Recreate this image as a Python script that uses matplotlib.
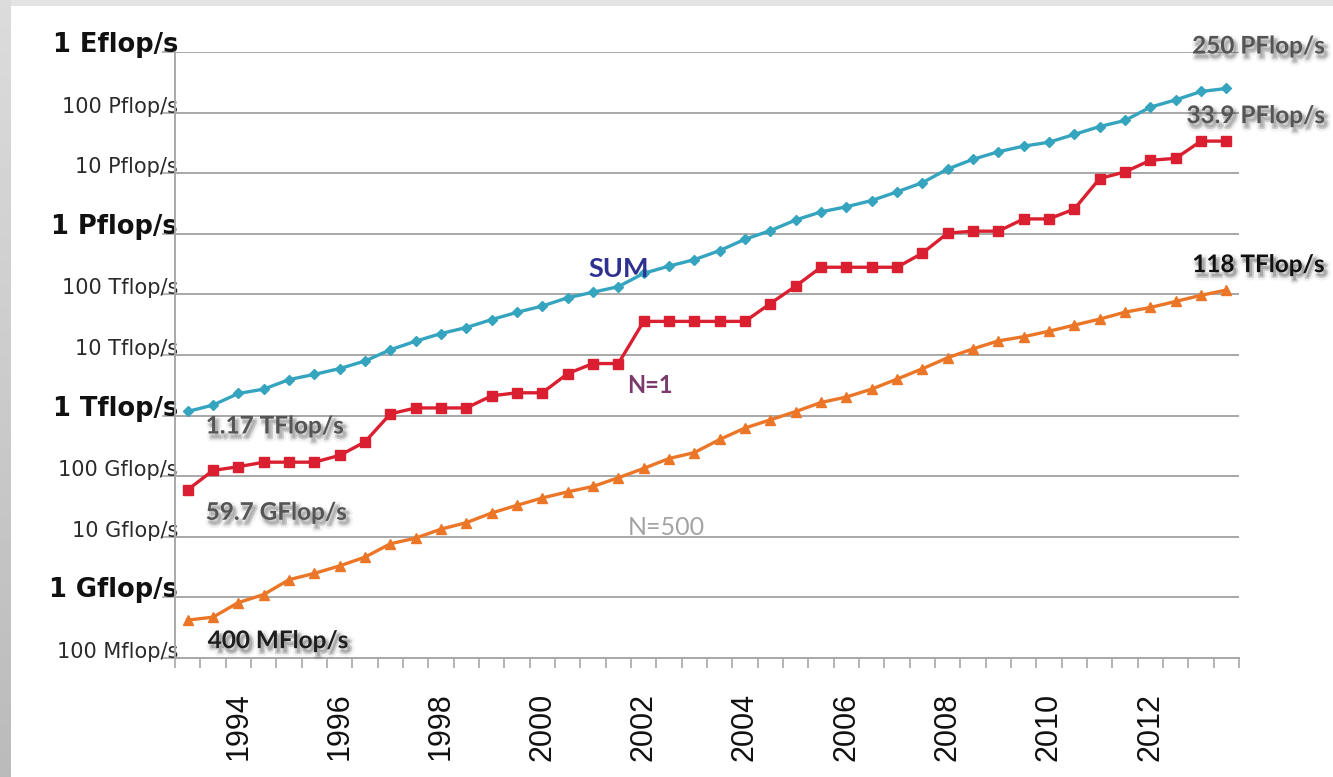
import numpy as np
import matplotlib
matplotlib.use("Agg")
import matplotlib.pyplot as plt
import matplotlib.patheffects as pe
from matplotlib.patches import Rectangle
from matplotlib.ticker import FixedLocator, NullFormatter

# ---------------- data (GFlop/s), TOP500 lists June 1993 .. Nov 2013 ----------------
lists = [f"{y}-{m}" for y in range(1993, 2014) for m in ("06", "11")]

sum_gf = [1170, 1493, 2317, 2732, 3926, 4786, 5964, 7967, 12200, 16900,
          22600, 28400, 38400, 50600, 64300, 88100, 108600, 134400, 222200, 293200,
          374400, 528000, 813000, 1127000, 1690000, 2300000, 2790000, 3540000, 4920000, 6970000,
          11710000, 16950000, 22600000, 27950000, 32430000, 43670000, 58880000, 74160000, 123000000, 162000000,
          223000000, 250000000]

n1_gf = [59.7, 124.5, 143.4, 170.4, 170.4, 170.4, 220.4, 368.2, 1068, 1338,
         1338, 1338, 2121, 2379, 2379, 4938, 7226, 7226, 35860, 35860,
         35860, 35860, 35860, 70720, 136800, 280600, 280600, 280600, 280600, 478200,
         1026000, 1105000, 1105000, 1759000, 1759000, 2566000, 8162000, 10510000, 16325000, 17590000,
         33860000, 33860000]

n500_gf = [0.422, 0.472, 0.822, 1.114, 1.96, 2.49, 3.31, 4.62, 7.67, 9.51,
           13.39, 17.12, 24.73, 33.1, 43.8, 55.1, 67.78, 94.3, 134.3, 195.8,
           245.1, 403.4, 624, 850.6, 1166, 1646, 2026, 2737, 4005, 5929,
           9000, 12640, 17100, 20050, 24670, 31120, 39090, 50940, 60820, 76500,
           96620, 117800]

year_labels = [str(y) for y in range(1994, 2013, 2)]

y_values = [1e18, 1e17, 1e16, 1e15, 1e14, 1e13, 1e12, 1e11, 1e10, 1e9, 1e8]
y_labels = ["1 Eflop/s", "100 Pflop/s", "10 Pflop/s", "1 Pflop/s", "100 Tflop/s",
            "10 Tflop/s", "1 Tflop/s", "100 Gflop/s", "10 Gflop/s", "1 Gflop/s", "100 Mflop/s"]
y_major = ["1 Eflop/s", "1 Pflop/s", "1 Tflop/s", "1 Gflop/s"]

# ---------------- figure ----------------
W, H = 1333, 777
fig = plt.figure(figsize=(W / 100, H / 100), dpi=100)
fig.patch.set_facecolor("#e3e3e3")

# white panel
fig.add_artist(Rectangle((11 / W, 0), 1, 1 - 6 / H, transform=fig.transFigure,
                         facecolor="white", edgecolor="none", zorder=-5))
# left gradient strip
bg = fig.add_axes([0, 0, 11 / W, 1], zorder=-4)
grad = np.linspace(0.86, 0.73, 256).reshape(-1, 1)
bg.imshow(grad, aspect="auto", cmap="gray", vmin=0, vmax=1, extent=[0, 1, 0, 1])
bg.axis("off")

ax = fig.add_axes([175 / W, 1 - 658 / H, (1239 - 175) / W, (658 - 52) / H])
ax.set_facecolor("none")

x = np.arange(len(lists))
to_flops = 1e9
grid_c = "#a8a8a8"

ax.plot(x, np.array(sum_gf) * to_flops, color="#35a4bf", lw=2.4, marker="D",
        ms=5, zorder=5, solid_joinstyle="round")
ax.plot(x, np.array(n1_gf) * to_flops, color="#d91f30", lw=2.4, marker="s",
        ms=6.5, zorder=6, solid_joinstyle="round")
ax.plot(x, np.array(n500_gf) * to_flops, color="#ec7627", lw=2.4, marker="^",
        ms=6.5, zorder=5, solid_joinstyle="round")

ax.set_yscale("log")
ax.set_ylim(1e8, 1e18)
ax.set_xlim(-0.5, len(lists) - 0.5)

# y axis
ax.yaxis.set_major_locator(FixedLocator(y_values))
ax.yaxis.set_minor_locator(FixedLocator([]))
ax.set_yticklabels(y_labels)
ax.grid(axis="y", which="major", color=grid_c, lw=1.4, zorder=0)
ax.tick_params(axis="y", which="major", length=9.4, width=1.2, color=grid_c,
               pad=-11.5, direction="out")
for t in ax.get_yticklabels():
    t.set_verticalalignment("baseline")
    if t.get_text() in y_major:
        t.set_fontsize(18.5)
        t.set_fontweight("bold")
        t.set_color("#111111")
    else:
        t.set_fontsize(15)
        t.set_color("#2a2a2a")
    t.set_family("DejaVu Sans")

# x axis
year_idx = [lists.index(f"{y}-06") for y in year_labels]
ax.set_xticks(year_idx)
ax.set_xticklabels(year_labels, rotation=90, fontsize=22, family="Liberation Sans",
                   color="#111111")
ax.set_xticks(np.arange(-0.5, len(lists)), minor=True)
ax.xaxis.set_minor_formatter(NullFormatter())
ax.tick_params(axis="x", which="major", length=0, pad=25)
ax.tick_params(axis="x", which="minor", length=7.5, width=1.2, color=grid_c, direction="out")

for s in ("top", "right"):
    ax.spines[s].set_visible(False)
for s in ("left", "bottom"):
    ax.spines[s].set_color(grid_c)
    ax.spines[s].set_linewidth(1.4)

# ---------------- annotations ----------------
shadow = [pe.Stroke(offset=(2, -3), linewidth=6, foreground="black", alpha=0.05),
          pe.Stroke(offset=(2, -3), linewidth=2.5, foreground="black", alpha=0.15),
          pe.Normal()]
afont = "Lato"

def note(txt, i, vals, dx, dy, color, ha="left", size=17.5):
    ax.annotate(txt, xy=(i, vals[i] * to_flops), xytext=(dx, dy),
                textcoords="offset pixels", ha=ha, va="baseline", fontsize=size,
                fontweight="bold", family=afont, color=color, path_effects=shadow,
                zorder=10, annotation_clip=False)

last = len(lists) - 1
note("1.17 TFlop/s", 0, sum_gf, 18, -22, "#555555")
note("59.7 GFlop/s", 0, n1_gf, 18, -30, "#555555")
note("400 MFlop/s", 0, n500_gf, 20, -28, "#1e1e1e")
note("250 PFlop/s", last, sum_gf, 98, 35, "#555555", ha="right")
note("33.9 PFlop/s", last, n1_gf, 98, 18, "#555555", ha="right")
note("118 TFlop/s", last, n500_gf, 98, 18, "#111111", ha="right")

ax.text(17, 1.94e14, "SUM", ha="center", va="baseline", fontsize=19.5, fontweight="bold",
        family=afont, color="#2f3190", zorder=10)
ax.text(18.25, 2.36e12, "N=1", ha="center", va="baseline", fontsize=17, fontweight="bold",
        family=afont, color="#7a3a6c", zorder=10)
ax.text(18.9, 1.07e10, "N=500", ha="center", va="baseline", fontsize=18,
        family=afont, color="#a3a3a3", zorder=10)

fig.savefig("out.png", dpi=100, facecolor=fig.get_facecolor())
